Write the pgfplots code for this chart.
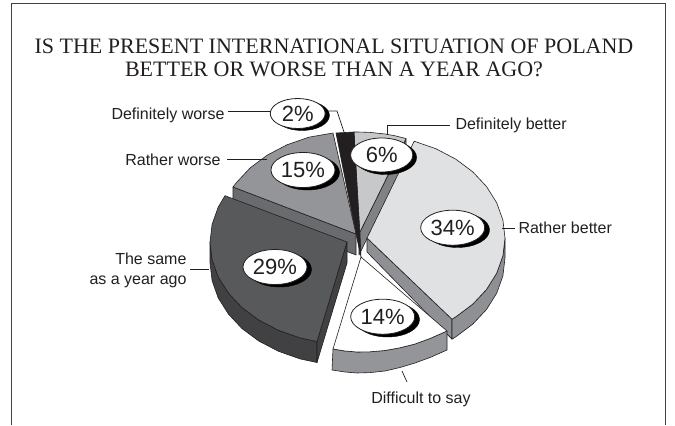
\documentclass[border=0pt]{standalone}
\usepackage{fontspec}
\setmainfont{Liberation Sans}
\newfontfamily\titlefont{Liberation Serif}
\usepackage{pgfplots}
\pgfplotsset{compat=1.18}

\definecolor{sliceA}{HTML}{C7C8CA}
\definecolor{sliceAside}{HTML}{808285}
\definecolor{sliceB}{HTML}{E0E1E3}
\definecolor{sliceBside}{HTML}{8F9093}
\definecolor{sliceC}{HTML}{939598}
\definecolor{sliceCside}{HTML}{6A6B6E}
\definecolor{sliceD}{HTML}{58595B}
\definecolor{sliceDside}{HTML}{414042}
\definecolor{sliceK}{HTML}{231F20}

\pgfplotsset{
  slice/.style={draw=sliceK, line width=0.6pt, line join=round},
  leader/.style={draw=sliceK, line width=0.7pt, forget plot},
  bubble/.style={only marks, mark=*, mark size=#1pt, mark options={xscale=1.83, draw=sliceK, fill=white, line width=0.8pt}},
  shade/.style={only marks, mark=*, mark size=#1pt, mark options={xscale=1.83, draw=black, fill=black}},
  percent/.style={nodes near coords, point meta=explicit symbolic,
    nodes near coords style={anchor=center, font=\fontsize{22}{22}\selectfont, text=sliceK, inner sep=0pt}},
}

\begin{document}
\begin{tikzpicture}
\begin{axis}[
  scale only axis, width=675pt, height=425pt,
  xmin=0, xmax=675, ymin=0, ymax=425, y dir=reverse,
  axis lines=none, clip=false,
]
% page background and the frame, which stays open at the bottom
\addplot[fill=white, draw=none] coordinates {(0,0) (675,0) (675,425) (0,425)} --cycle;
\addplot[draw=sliceK!85, line width=0.9pt] coordinates {(11,425) (11,3) (665,3) (665,425)};

% Definitely better, 6%
\addplot[slice, fill=sliceAside] coordinates {(406,139) (406,159) (359,255) (359,234)} --cycle;
\addplot[slice, fill=sliceA] coordinates {(354,132) (358,132) (370,132.4) (385,134) (395,135.8) (406,138.5) (359,234)} --cycle;

% Definitely worse, 2%
\addplot[slice, fill=sliceK] coordinates {(336,133) (354,132) (360,234) (361,257) (356,234)} --cycle;

% Rather worse, 15%
\addplot[slice, fill=sliceCside] coordinates {(233,187) (233,208) (356,255) (356,234)} --cycle;
\addplot[slice, fill=sliceC] coordinates {(333,133) (308.8,137.2) (287,144.8) (267.3,155.1) (250.3,167.8) (236.5,182.5) (233,187) (356,234)} --cycle;

% The same as a year ago, 29%
\addplot[slice, fill=sliceDside] coordinates {(210,242) (210,263) (212.1,280.7) (218.2,297.9) (228.4,314) (242,328.6) (258.9,341.1) (278.5,351.3) (300.1,358.9) (317,362.5) (317,341.5) (300.1,337.9) (278.5,330.3) (258.9,320.1) (242,307.6) (228.4,293) (218.2,276.9) (212.1,259.7)} --cycle;
\addplot[slice, fill=sliceDside] coordinates {(317,341.5) (317,362.5) (347,263) (347,242)} --cycle;
\addplot[slice, fill=sliceD] coordinates {(347,242) (225,195.7) (218.2,207.1) (212.1,224.3) (210,242) (212.1,259.7) (218.2,276.9) (228.4,293) (242,307.6) (258.9,320.1) (278.5,330.3) (300.1,337.9) (317,341.5)} --cycle;

% Rather better, 34%
\addplot[slice, fill=sliceBside] coordinates {(367,238) (367,252) (452,339.2) (452,319.2)} --cycle;
\addplot[slice, fill=sliceBside] coordinates {(505,238) (505,258) (502.9,275.9) (496.7,293.2) (486.5,309.5) (472.7,324.2) (455.7,336.9) (452,339.2) (452,319.2) (455.7,316.9) (472.7,304.2) (486.5,289.5) (496.7,273.2) (502.9,255.9)} --cycle;
\addplot[slice, fill=sliceB] coordinates {(367,238) (414.2,141.2) (436,148.8) (455.7,159.1) (472.7,171.8) (486.5,186.5) (496.7,202.8) (502.9,220.1) (505,238) (502.9,255.9) (496.7,273.2) (486.5,289.5) (472.7,304.2) (455.7,316.9) (452,319.2)} --cycle;

% Difficult to say, 14%
\addplot[slice, fill=sliceC] coordinates {(333,349) (332,370) (345,372) (357,373) (370,372.6) (385,371) (400,367.5) (415,363) (430,357.5) (447,350) (447,331) (430,338.5) (415,344) (400,347.8) (385,350.5) (370,351.8) (357,352) (345,351)} --cycle;
\addplot[slice, fill=white] coordinates {(361,257) (447,331) (430,338.5) (415,344) (400,347.8) (385,350.5) (370,351.8) (357,352) (345,351) (333,349)} --cycle;

% leader lines from the slices to their captions
\addplot[leader] coordinates {(228,111) (272,111)};
\addplot[leader] coordinates {(325,111) (337,111) (344,132)};
\addplot[leader] coordinates {(227,159) (267,159)};
\addplot[leader] coordinates {(450,125) (387,125) (387,135)};
\addplot[leader] coordinates {(502,228) (515,228)};
\addplot[leader] coordinates {(190,269) (209,269)};
\addplot[leader] coordinates {(402,371) (407,382)};

% percentage bubbles with their offset shadows
\addplot[shade=15] coordinates {(302,115.5)};
\addplot[bubble=15] coordinates {(297.7,113.5)};
\addplot[shade=17] coordinates {(385.5,157.5)};
\addplot[shade=17.5] coordinates {(307.5,172.5) (457.5,230) (279.5,269.5) (387.5,319.5)};
\addplot[bubble=17, percent] table[meta=label] {
x y label
381.7 155 6\%
};
\addplot[bubble=17.5, percent] table[meta=label] {
x y label
303 170 15\%
452.7 227.7 34\%
275 267 29\%
382.7 316.7 14\%
};
\addplot[only marks, mark=none, percent] table[meta=label] {
x y label
297.7 113.5 2\%
};

% captions
\node[anchor=east, font=\fontsize{16}{19}\selectfont, text=sliceK] at (axis cs:228,115) {Definitely worse};
\node[anchor=east, font=\fontsize{16}{19}\selectfont, text=sliceK] at (axis cs:224,160) {Rather worse};
\node[anchor=west, font=\fontsize{16}{19}\selectfont, text=sliceK] at (axis cs:452,125) {Definitely better};
\node[anchor=west, font=\fontsize{16}{19}\selectfont, text=sliceK] at (axis cs:515,228) {Rather better};
\node[anchor=east, align=right, font=\fontsize{16}{20}\selectfont, text=sliceK] at (axis cs:190,270) {The same\\as a year ago};
\node[font=\fontsize{16}{19}\selectfont, text=sliceK] at (axis cs:421,399) {Difficult to say};
\node[align=center, font=\titlefont\fontsize{22}{22.5}\selectfont, text=sliceK] at (axis cs:334,58) {IS THE PRESENT INTERNATIONAL SITUATION OF POLAND\\BETTER OR WORSE THAN A YEAR AGO?};
\end{axis}
\end{tikzpicture}
\end{document}
